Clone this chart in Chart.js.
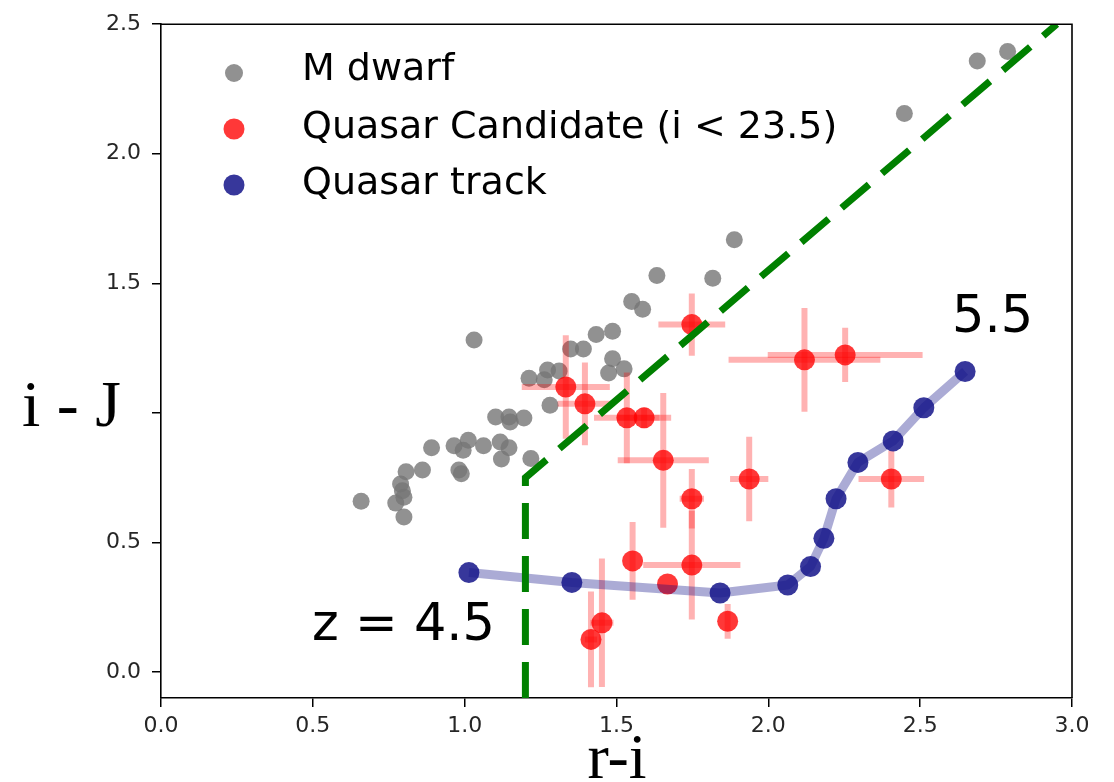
<!DOCTYPE html>
<html>
<head>
<meta charset="utf-8">
<script src="https://cdn.jsdelivr.net/npm/chart.js@4.4.1/dist/chart.umd.min.js"></script>
<style>
html,body{margin:0;padding:0;background:#ffffff;}
#wrap{position:relative;width:1114px;height:782px;}
</style>
</head>
<body>
<div id="wrap"><canvas id="c" width="1114" height="782"></canvas></div>
<script>
// ---- Data ----
const mdwarfX = [1.031, 1.212, 1.262, 1.273, 1.311, 1.349, 1.391, 1.433, 1.487, 1.487, 1.474, 1.525,
                 1.550, 1.586, 1.633, 1.817, 1.888, 1.281, 1.102, 1.146, 1.150, 1.195, 0.891, 0.965,
                 1.012, 0.995, 1.062, 1.117, 1.146, 1.121, 1.218, 0.981, 0.989, 0.861, 0.807, 0.789,
                 0.795, 0.800, 0.773, 0.800, 0.659, 2.448, 2.688, 2.788];
const mdwarfY = [1.281, 1.134, 1.128, 1.166, 1.162, 1.247, 1.247, 1.303, 1.315, 1.209, 1.154, 1.170,
                 1.430, 1.400, 1.530, 1.520, 1.668, 1.030, 0.984, 0.984, 0.965, 0.980, 0.866, 0.873,
                 0.895, 0.856, 0.873, 0.888, 0.866, 0.822, 0.824, 0.780, 0.765, 0.780, 0.773, 0.726,
                 0.700, 0.675, 0.652, 0.598, 0.659, 2.155, 2.358, 2.395];

const candX    = [1.748, 1.333, 1.396, 1.534, 1.591, 1.654, 1.748, 1.937, 2.119, 2.253, 2.405, 1.553, 1.748, 1.668, 1.866, 1.452, 1.416];
const candY    = [1.341, 1.100, 1.035, 0.981, 0.981, 0.817, 0.669, 0.745, 1.205, 1.224, 0.745, 0.429, 0.413, 0.340, 0.196, 0.190, 0.126];
const candXErr = [0.110, 0.145, 0.090, 0.108, 0.089, 0.150, 0.040, 0.063, 0.250, 0.255, 0.108, 0.000, 0.160, 0.000, 0.000, 0.038, 0.020];
const candYErr = [0.120, 0.200, 0.160, 0.175, 0.040, 0.260, 0.115, 0.163, 0.200, 0.105, 0.110, 0.150, 0.210, 0.000, 0.067, 0.248, 0.185];

const trackX = [1.014, 1.353, 1.841, 2.064, 2.139, 2.183, 2.223, 2.295, 2.411, 2.512, 2.648];
const trackY = [0.384, 0.346, 0.305, 0.336, 0.407, 0.516, 0.669, 0.809, 0.892, 1.020, 1.160];

const cutX = [1.2, 1.2, 2.95];
const cutY = [-0.1, 0.75, 2.5];

const xTicks = [0.0, 0.5, 1.0, 1.5, 2.0, 2.5, 3.0];
const xTickLabels = ['0.0', '0.5', '1.0', '1.5', '2.0', '2.5', '3.0'];
const yTicks = [0.0, 0.5, 1.0, 1.5, 2.0, 2.5];
const yTickLabels = ['0.0', '0.5', '', '1.5', '2.0', '2.5'];

const seriesLabels = ['M dwarf', 'Quasar Candidate (i < 23.5)', 'Quasar track'];

// ---- Build datasets ----
const zip = (xs, ys) => xs.map((x, i) => ({x: x, y: ys[i]}));

const errDatasets = [];
candX.forEach((x, i) => {
  const y = candY[i];
  if (candXErr[i] > 0) {
    errDatasets.push({type:'line', showLine:true, data:[{x:x - candXErr[i], y:y}, {x:x + candXErr[i], y:y}],
      borderColor:'rgba(255,0,0,0.3)', borderWidth:6, pointRadius:0, borderCapStyle:'butt', order:3});
  }
  if (candYErr[i] > 0) {
    errDatasets.push({type:'line', showLine:true, data:[{x:x, y:y - candYErr[i]}, {x:x, y:y + candYErr[i]}],
      borderColor:'rgba(255,0,0,0.3)', borderWidth:6, pointRadius:0, borderCapStyle:'butt', order:3});
  }
});

const dsMdwarf = {label:seriesLabels[0], data:zip(mdwarfX, mdwarfY), pointRadius:8.5, pointBorderWidth:0,
  backgroundColor:'rgba(118,118,118,0.8)', borderColor:'rgba(118,118,118,0.8)', showLine:false, order:5};
const dsCand = {label:seriesLabels[1], data:zip(candX, candY), pointRadius:10.5, pointBorderWidth:0,
  backgroundColor:'rgba(255,0,0,0.78)', borderColor:'rgba(255,0,0,0.78)', showLine:false, order:2};
const dsTrack = {label:seriesLabels[2], type:'line', showLine:true, data:zip(trackX, trackY), pointRadius:10.5,
  pointBorderWidth:0, pointBackgroundColor:'rgba(22,22,138,0.86)', backgroundColor:'rgba(22,22,138,0.86)',
  borderColor:'rgba(0,0,128,0.33)', borderWidth:9, tension:0, borderJoinStyle:'round', order:1};
const dsCut = {label:'cut', type:'line', showLine:true, data:zip(cutX, cutY), pointRadius:0,
  borderColor:'#008000', borderWidth:7, borderDash:[36,17], borderCapStyle:'butt', borderJoinStyle:'miter', tension:0, order:0};

// ---- Plugins: frame, legend, annotations ----
const framePlugin = {
  id:'frame',
  afterDatasetsDraw(chart){
    const {ctx, chartArea:a} = chart;
    ctx.save();
    ctx.strokeStyle = '#000'; ctx.lineWidth = 1.6;
    ctx.beginPath();
    ctx.moveTo(a.left, a.top); ctx.lineTo(a.right, a.top); ctx.lineTo(a.right, a.bottom);
    ctx.stroke();
    ctx.restore();
  }
};

const legendPlugin = {
  id:'customLegend',
  afterDatasetsDraw(chart){
    const ctx = chart.ctx;
    const rows = [
      {ds:dsMdwarf, my:73, ty:70, r:9},
      {ds:dsCand, my:129, ty:128, r:10.5},
      {ds:dsTrack, my:185, ty:184, r:10.5}
    ];
    ctx.save();
    rows.forEach(row => {
      ctx.beginPath();
      ctx.fillStyle = row.ds.pointBackgroundColor || row.ds.backgroundColor;
      ctx.arc(234, row.my, row.r, 0, Math.PI * 2);
      ctx.fill();
      ctx.fillStyle = '#000';
      ctx.font = '38px "DejaVu Sans"';
      ctx.textBaseline = 'middle';
      ctx.textAlign = 'left';
      ctx.fillText(row.ds.label, 302, row.ty);
    });
    ctx.restore();
  }
};

const annotPlugin = {
  id:'annot',
  afterDraw(chart){
    const ctx = chart.ctx;
    ctx.save();
    ctx.fillStyle = '#000';
    ctx.textBaseline = 'alphabetic';
    ctx.textAlign = 'left';
    ctx.font = '51px "DejaVu Sans"';
    ctx.fillText('z = 4.5', 312, 640);
    ctx.fillText('5.5', 952, 332);
    ctx.font = '66px "Liberation Serif"';
    ctx.fillText('i - J', 22, 426);
    ctx.textAlign = 'center';
    ctx.font = '64px "Liberation Serif"';
    ctx.fillText('r-i', 617, 778);
    ctx.restore();
  }
};

const tickFont = {family:'DejaVu Sans', size:22};

new Chart(document.getElementById('c'), {
  type:'scatter',
  data:{datasets:[dsCut, dsTrack, dsCand, ...errDatasets, dsMdwarf]},
  options:{
    responsive:false,
    animation:false,
    events:[],
    layout:{padding:{left:0, top:18, right:42, bottom:0}},
    plugins:{legend:{display:false}, tooltip:{enabled:false}},
    scales:{
      x:{
        type:'linear', min:0, max:3,
        afterBuildTicks:(s) => { s.ticks = xTicks.map(v => ({value:v})); },
        afterFit:(s) => { s.height = 84; },
        grid:{display:true, drawOnChartArea:false, drawTicks:true, tickLength:9, color:'#000', lineWidth:1.5},
        border:{display:true, color:'#000', width:1.6},
        ticks:{font:tickFont, color:'#262626', padding:6, maxRotation:0, autoSkip:false,
          callback:(v, i) => xTickLabels[i]}
      },
      y:{
        type:'linear', min:-0.1, max:2.5,
        afterBuildTicks:(s) => { s.ticks = yTicks.map(v => ({value:v})); },
        afterFit:(s) => { s.width = 161; },
        grid:{display:true, drawOnChartArea:false, drawTicks:true, tickLength:9, color:'#000', lineWidth:1.5},
        border:{display:true, color:'#000', width:1.6},
        ticks:{font:tickFont, color:'#262626', padding:11, autoSkip:false,
          callback:(v, i) => yTickLabels[i]}
      }
    }
  },
  plugins:[framePlugin, legendPlugin, annotPlugin]
});
</script>
</body>
</html>
